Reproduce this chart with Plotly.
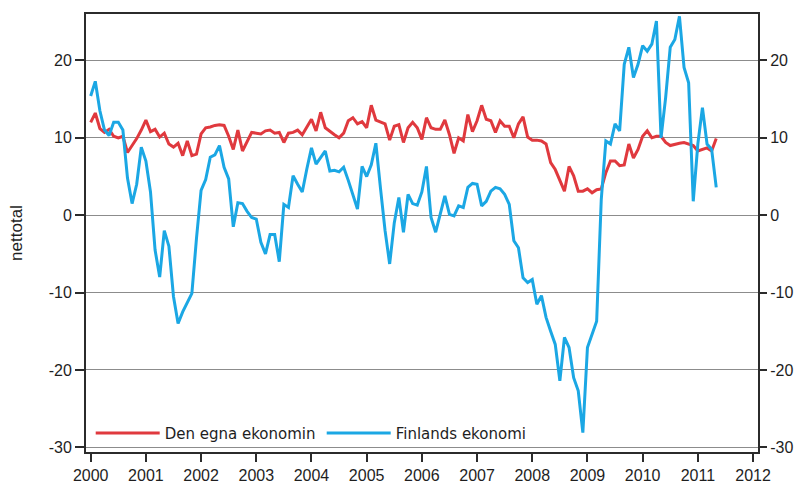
import plotly.graph_objects as go

# Monthly data, January 2000 - May 2011
start_year = 2000
n_months = 137

den_egna = [
    # 2000
    12.0, 13.2, 11.2, 10.7, 11.1, 10.2, 10.0, 10.2, 8.1, 9.0, 9.9, 11.0,
    # 2001
    12.3, 10.8, 11.1, 10.1, 10.6, 9.2, 8.8, 9.3, 7.7, 9.6, 7.7, 7.9,
    # 2002
    10.5, 11.3, 11.4, 11.6, 11.7, 11.6, 10.2, 8.5, 11.0, 8.3, 9.6, 10.7,
    # 2003
    10.6, 10.5, 10.9, 11.0, 10.6, 10.7, 9.4, 10.6, 10.7, 11.0, 10.4, 11.5,
    # 2004
    12.4, 10.9, 13.3, 11.3, 10.8, 10.4, 10.0, 10.6, 12.2, 12.6, 11.8, 12.1,
    # 2005
    11.3, 14.2, 12.3, 12.0, 11.8, 9.7, 11.5, 11.7, 9.4, 11.3, 12.0, 11.3,
    # 2006
    9.8, 12.6, 11.3, 11.1, 11.1, 12.3, 10.4, 8.0, 10.0, 9.6, 13.0, 10.8,
    # 2007
    12.2, 14.2, 12.4, 12.2, 10.7, 12.2, 11.5, 11.5, 10.0, 11.8, 12.7, 10.1,
    # 2008
    9.7, 9.7, 9.6, 9.2, 6.8, 5.9, 4.4, 3.1, 6.3, 5.1, 3.1, 3.1,
    # 2009
    3.4, 2.9, 3.3, 3.4, 5.5, 7.0, 7.0, 6.4, 6.5, 9.2, 7.4, 8.5,
    # 2010
    10.2, 10.9, 10.0, 10.2, 10.2, 9.4, 9.0, 9.2, 9.3, 9.4, 9.2, 9.0,
    # 2011
    8.3, 8.5, 8.7, 8.3, 9.9,
]

finlands = [
    # 2000
    15.4, 17.3, 13.5, 11.0, 10.3, 12.0, 12.0, 11.0, 4.8, 1.5, 4.0, 8.8,
    # 2001
    7.0, 3.0, -4.5, -8.0, -2.0, -4.0, -10.5, -14.0, -12.5, -11.2, -10.1, -3.0,
    # 2002
    3.2, 4.6, 7.5, 7.8, 9.0, 6.2, 4.7, -1.5, 1.6, 1.5, 0.5, -0.3,
    # 2003
    -0.5, -3.5, -5.0, -2.5, -2.5, -6.0, 1.4, 1.0, 5.1, 4.0, 3.0, 6.0,
    # 2004
    8.7, 6.6, 7.4, 8.3, 5.7, 5.8, 5.6, 6.2, 4.5, 2.5, 0.8, 6.3,
    # 2005
    5.0, 6.5, 9.3, 3.5, -2.0, -6.3, -1.0, 2.3, -2.2, 2.7, 1.5, 1.3,
    # 2006
    3.0, 6.3, -0.3, -2.2, 0.0, 2.5, 0.1, -0.1, 1.2, 1.0, 3.6, 4.1,
    # 2007
    4.0, 1.2, 1.8, 3.1, 3.6, 3.4, 2.7, 1.4, -3.3, -4.2, -8.1, -8.7,
    # 2008
    -8.3, -11.5, -10.4, -13.2, -15.0, -16.7, -21.4, -15.8, -17.1, -21.0, -22.7, -28.1,
    # 2009
    -17.1, -15.4, -13.7, 2.0, 9.6, 9.2, 11.8, 10.9, 19.5, 21.7, 17.8, 19.5,
    # 2010
    21.9, 21.2, 22.1, 25.1, 10.0, 15.2, 21.7, 22.7, 25.7, 19.1, 17.1, 1.8,
    # 2011
    9.2, 13.9, 9.2, 8.5, 3.6,
]

x_vals = [start_year + i / 12 for i in range(n_months)]

year_ticks = list(range(2000, 2013))
y_ticks = [-30, -20, -10, 0, 10, 20]
y_ticktext = [str(v) for v in y_ticks]  # plain hyphen-minus as in the original

series_names = ["Den egna ekonomin", "Finlands ekonomi"]
RED = "#e0393e"
BLUE = "#1ba7e4"
AXIS = "#2b2b2b"
TXT = "#1e1e1e"

fig = go.Figure()
fig.add_trace(go.Scatter(x=x_vals, y=den_egna, mode="lines", name=series_names[0],
                         line=dict(color=RED, width=3), hoverinfo="x+y"))
fig.add_trace(go.Scatter(x=x_vals, y=finlands, mode="lines", name=series_names[1],
                         line=dict(color=BLUE, width=3), hoverinfo="x+y"))
# invisible trace to anchor the right-hand axis
fig.add_trace(go.Scatter(x=x_vals, y=den_egna, mode="lines", yaxis="y2",
                         showlegend=False, hoverinfo="skip", opacity=0,
                         line=dict(width=0)))

yrange = [-30.6, 26.0]
FONT = "Liberation Sans, Arial, sans-serif"
tickfont = dict(family=FONT, size=16, color=TXT)

fig.update_layout(
    width=798, height=484,
    margin=dict(l=86, r=40, t=14, b=32, autoexpand=False),
    paper_bgcolor="white", plot_bgcolor="white",
    showlegend=True,
    legend=dict(orientation="h", x=0.007, y=0.005, xanchor="left", yanchor="bottom",
                bgcolor="rgba(0,0,0,0)", borderwidth=0,
                font=dict(family="DejaVu Sans, Verdana, sans-serif", size=15, color=TXT),
                entrywidth=152, entrywidthmode="pixels", itemwidth=64,
                traceorder="normal"),
    xaxis=dict(range=[1999.915, 2012.09], tickvals=year_ticks,
               ticktext=[str(y) for y in year_ticks],
               ticks="outside", ticklen=8, tickwidth=1.5, tickcolor=AXIS,
               showline=True, linecolor=AXIS, linewidth=2, mirror=True,
               showgrid=False, zeroline=False, tickfont=tickfont,
               ticklabelstandoff=0, automargin=False),
    yaxis=dict(range=yrange, tickvals=y_ticks, ticktext=y_ticktext,
               ticks="outside", ticklen=9,
               tickwidth=1.5, tickcolor=AXIS, showline=True, linecolor=AXIS,
               linewidth=2, mirror=True, showgrid=True, gridcolor="#8c8c8c",
               gridwidth=1, zeroline=False, tickfont=tickfont, automargin=False,
               title=dict(text="nettotal", font=dict(family=FONT, size=17, color=TXT),
                          standoff=22)),
    yaxis2=dict(range=yrange, tickvals=y_ticks, ticktext=y_ticktext,
                overlaying="y", side="right",
                ticks="outside", ticklen=8, tickwidth=1.5, tickcolor=AXIS,
                showline=False, showgrid=False, zeroline=False, tickfont=tickfont,
                automargin=False),
)

fig.write_html(
    "out.html",
    config={"displayModeBar": False},
    post_script="document.body.style.margin='0';document.body.style.overflow='hidden';",
)
